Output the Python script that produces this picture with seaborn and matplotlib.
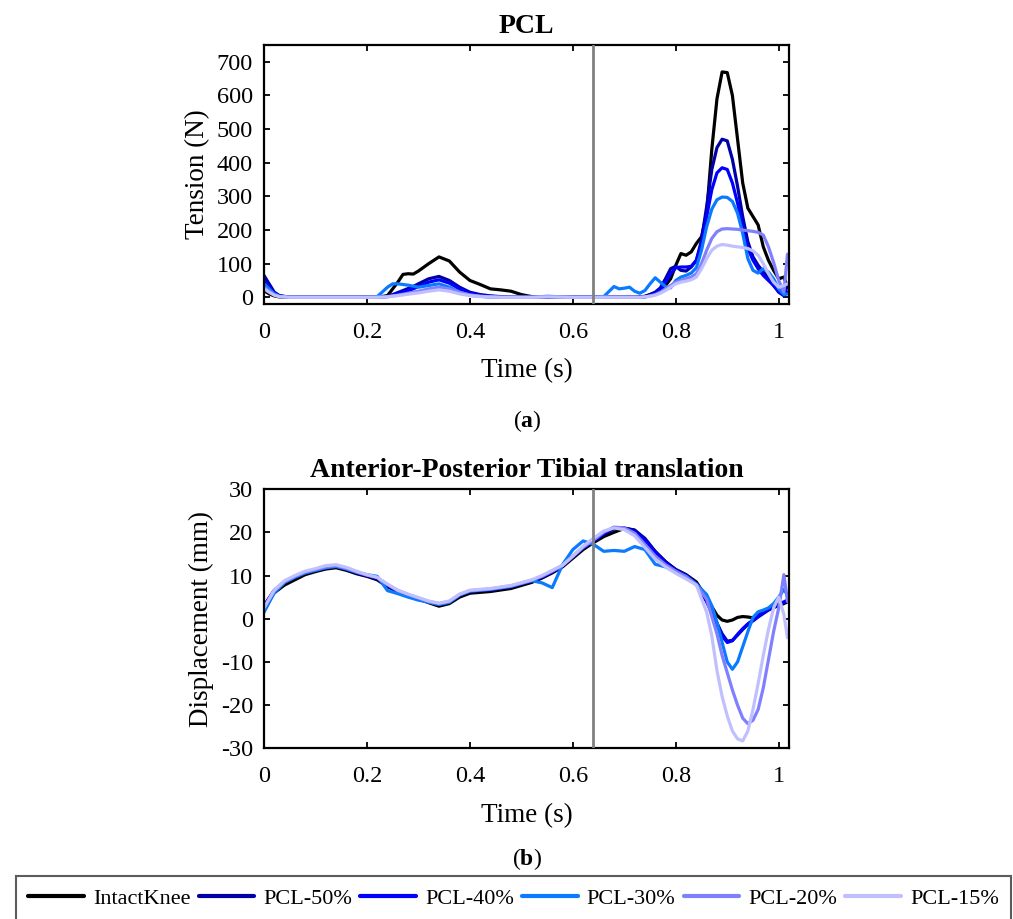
import numpy as np
import pandas as pd
import seaborn as sns
import matplotlib.pyplot as plt
from matplotlib.lines import Line2D

series = ['IntactKnee', 'PCL-50%', 'PCL-40%', 'PCL-30%', 'PCL-20%', 'PCL-15%']
colors = ['#000000', '#0000a8', '#0000ff', '#0a7aff', '#8080ff', '#c0c0ff']

# PCL tension (N)
t_top = [0, 0.01, 0.02, 0.03, 0.05, 0.10, 0.15, 0.20, 0.22, 0.24,
         0.25, 0.26, 0.27, 0.28, 0.29, 0.30,
         0.32, 0.34, 0.36, 0.38, 0.40, 0.42, 0.44, 0.46, 0.48, 0.50, 0.52,
         0.55, 0.60, 0.64, 0.66,
         0.68, 0.69, 0.70, 0.71, 0.72, 0.73, 0.74, 0.75, 0.76, 0.77,
         0.78, 0.79, 0.80, 0.81, 0.82, 0.83, 0.84, 0.85, 0.86, 0.87,
         0.88, 0.89, 0.90, 0.91, 0.92, 0.93, 0.94, 0.95, 0.96, 0.97,
         0.98, 0.99, 1.00, 1.01, 1.017]

tension_intact = [20, 10, 4, 1, 0, 0, 0, 0, 0, 5,
                  25, 45, 68, 70, 69, 78,
                  100, 120, 108, 75, 50, 38, 25, 22, 18, 8, 2,
                  0, 0, 0, 0,
                  0, 0, 0, 0, 0, 1, 3, 8, 14, 20,
                  35, 55, 95, 130, 125, 135, 160, 180, 250, 440,
                  590, 670, 668, 600, 470, 340, 265, 240, 215, 150,
                  110, 80, 55, 60, 30]
tension_50 = [65, 40, 15, 5, 0, 0, 0, 0, 0, 3,
              8, 14, 20, 26, 32, 40,
              55, 62, 50, 30, 15, 8, 4, 2, 1, 0, 0,
              0, 0, 0, 0,
              0, 0, 0, 0, 0, 0, 2, 8, 15, 28,
              55, 85, 92, 80, 78, 90, 110, 170, 270, 380,
              445, 470, 465, 410, 330, 240, 165, 120, 95, 75,
              60, 35, 15, 5, 35]
tension_40 = [50, 30, 12, 4, 0, 0, 0, 0, 0, 2,
              6, 11, 16, 20, 25, 32,
              45, 52, 42, 25, 12, 6, 3, 1, 0, 0, 0,
              0, 0, 0, 0,
              0, 0, 0, 0, 0, 0, 1, 5, 12, 22,
              45, 70, 88, 90, 90, 92, 110, 160, 240, 320,
              370, 385, 380, 340, 280, 210, 145, 110, 85, 65,
              50, 35, 18, 5, 15]
tension_30 = [40, 25, 10, 3, 0, 0, 0, 0, 2, 30,
              40, 40, 38, 36, 33, 30,
              35, 40, 30, 15, 6, 3, 1, 0, 0, 0, 0,
              3, 0, 0, 2,
              32, 25, 27, 30, 18, 12, 20, 40, 58, 45,
              32, 28, 50, 60, 65, 72, 88, 140, 210, 262,
              290, 298, 297, 285, 250, 190, 115, 80, 72, 85,
              75, 55, 25, 8, 10]
tension_20 = [30, 18, 8, 2, 0, 0, 0, 0, 0, 2,
              4, 6, 9, 12, 15, 18,
              25, 30, 25, 15, 7, 3, 1, 0, 0, 0, 0,
              2, 0, 0, 0,
              0, 0, 0, 0, 0, 0, 1, 4, 8, 15,
              25, 35, 45, 50, 55, 60, 70, 100, 140, 175,
              195, 203, 204, 203, 202, 200, 198, 196, 193, 185,
              150, 104, 50, 15, 128]
tension_15 = [25, 15, 6, 2, 0, 0, 0, 0, 0, 1,
              3, 5, 7, 9, 11, 13,
              18, 22, 18, 10, 5, 2, 1, 0, 0, 0, 0,
              1, 0, 0, 0,
              0, 0, 0, 0, 0, 0, 1, 3, 6, 12,
              20, 30, 40, 45, 48, 52, 60, 85, 115, 140,
              152, 157, 155, 152, 150, 148, 145, 138, 125, 100,
              70, 45, 30, 35, 40]

# Anterior-posterior tibial translation (mm)
t_bot = [0, 0.02, 0.04, 0.06, 0.08, 0.10, 0.12, 0.14, 0.16, 0.18, 0.20,
         0.22, 0.24, 0.26, 0.28, 0.30, 0.32, 0.34, 0.36, 0.38, 0.40,
         0.44, 0.48, 0.52,
         0.54, 0.56, 0.58, 0.60, 0.62, 0.64, 0.66, 0.68, 0.70, 0.72,
         0.74, 0.76, 0.78, 0.80, 0.82, 0.84, 0.86,
         0.87, 0.88, 0.89, 0.90, 0.91, 0.92, 0.93, 0.94, 0.95, 0.96,
         0.97, 0.98, 0.99, 1.00, 1.01, 1.017]

disp_intact = [2.8, 6.0, 7.8, 9.0, 10.2, 10.9, 11.5, 11.8, 11.2, 10.4, 9.8,
               9.0, 7.4, 6.3, 5.4, 4.6, 3.7, 2.9, 3.5, 5.0, 5.9,
               6.3, 7.0, 8.4,
               9.4, 10.6, 12.0, 14.0, 16.0, 17.6, 19.0, 20.0, 20.9, 20.5,
               18.3, 15.5, 13.2, 11.4, 10.2, 8.5, 4.8,
               2.8, 0.8, -0.3, -0.6, -0.3, 0.3, 0.5, 0.4, 0.2, 0.8,
               1.5, 2.1, 2.6, 3.0, 3.5, 3.9]
disp_50 = [3.0, 6.4, 8.5, 9.6, 10.6, 11.2, 11.8, 12.1, 11.5, 10.6, 10.0,
           9.4, 7.8, 6.5, 5.5, 4.7, 3.9, 3.3, 3.8, 5.4, 6.3,
           6.7, 7.4, 8.7,
           9.6, 10.8, 12.2, 14.3, 16.4, 17.9, 19.6, 20.8, 21.0, 20.5,
           18.6, 15.6, 13.2, 11.3, 10.1, 8.2, 4.2,
           1.7, -1.0, -3.5, -5.2, -5.0, -3.8, -2.5, -1.3, -0.5, 0.4,
           1.2, 2.0, 2.7, 3.2, 3.7, 4.1]
disp_40 = [3.0, 6.6, 8.6, 9.7, 10.7, 11.3, 11.9, 12.2, 11.6, 10.7, 10.0,
           9.3, 7.7, 6.4, 5.4, 4.6, 3.9, 3.4, 3.9, 5.5, 6.4,
           6.8, 7.5, 8.8,
           9.7, 10.9, 12.3, 14.4, 16.5, 18.0, 19.8, 21.1, 20.9, 20.1,
           18.1, 15.3, 13.0, 11.2, 10.0, 8.0, 3.9,
           1.3, -1.5, -4.0, -5.5, -5.1, -3.6, -2.3, -1.2, -0.3, 0.6,
           1.4, 2.1, 2.8, 3.4, 3.9, 4.3]
disp_30 = [1.5, 6.0, 8.4, 9.6, 10.6, 11.2, 11.8, 12.1, 11.5, 10.8, 10.2,
           9.8, 6.5, 5.8, 5.0, 4.3, 3.8, 3.3, 3.8, 5.5, 6.4,
           6.8, 7.5, 8.8,
           8.3, 7.2, 12.5, 16.0, 18.0, 17.2, 15.6, 15.8, 15.6, 16.7,
           16.0, 12.6, 12.0, 10.8, 9.8, 8.0, 5.6,
           3.0, -0.8, -5.5, -10.0, -11.7, -10.0, -6.5, -3.0, 0.3, 1.6,
           2.0, 2.5, 3.5, 5.0, 6.8, 5.5]
disp_20 = [2.5, 6.5, 8.6, 9.8, 10.8, 11.4, 12.0, 12.3, 11.7, 10.8, 10.1,
           9.5, 7.9, 6.5, 5.6, 4.8, 4.0, 3.5, 4.0, 5.6, 6.5,
           6.9, 7.6, 8.9,
           9.8, 11.0, 12.3, 14.4, 16.5, 18.2, 20.0, 21.2, 21.0, 19.8,
           17.2, 14.5, 12.5, 11.0, 9.7, 7.8, 4.5,
           0.5, -3.5, -8.5, -12.5, -16.5, -20.0, -23.0, -24.3, -23.5, -21.0,
           -16.0, -9.5, -3.0, 2.5, 10.2, 4.0]
disp_15 = [2.5, 6.6, 8.8, 10.0, 11.0, 11.6, 12.3, 12.5, 11.9, 11.0, 10.2,
           9.6, 8.0, 6.6, 5.7, 4.9, 4.1, 3.6, 4.1, 5.7, 6.6,
           7.0, 7.7, 9.0,
           10.0, 11.2, 12.4, 14.5, 16.8, 18.6, 20.3, 21.0, 20.6, 19.2,
           16.5, 13.8, 12.0, 10.5, 9.2, 7.8, 1.5,
           -4.0, -12.0, -18.0, -22.5, -26.0, -27.8, -28.3, -26.0, -21.0, -15.0,
           -8.5, -2.5, 2.5, 5.0, 1.0, -4.4]

event_time = 0.64

tension = [tension_intact, tension_50, tension_40, tension_30, tension_20, tension_15]
disp = [disp_intact, disp_50, disp_40, disp_30, disp_20, disp_15]


def long_form(t, values):
    frames = []
    for name, vals in zip(series, values):
        frames.append(pd.DataFrame({'time': t, 'value': vals, 'series': name}))
    return pd.concat(frames, ignore_index=True)


sns.set_style('ticks')
plt.rcParams['font.family'] = ['Liberation Serif', 'DejaVu Serif']
plt.rcParams['mathtext.fontset'] = 'custom'
plt.rcParams['mathtext.rm'] = 'Liberation Serif'
plt.rcParams['mathtext.bf'] = 'Liberation Serif:bold'
plt.rcParams['axes.unicode_minus'] = False
for key in ['text.color', 'axes.labelcolor', 'xtick.color', 'ytick.color',
            'xtick.labelcolor', 'ytick.labelcolor']:
    plt.rcParams[key] = 'black'

palette = dict(zip(series, colors))

fig = plt.figure(figsize=(10.13, 9.19), dpi=100)
ax_top = fig.add_axes([0.2606, 0.6692, 0.5183, 0.2818])
ax_bot = fig.add_axes([0.2606, 0.1857, 0.5183, 0.2821])

panels = [
    (ax_top, long_form(t_top, tension), 'PCL', 'Tension (N)', (-20, 750),
     [0, 100, 200, 300, 400, 500, 600, 700]),
    (ax_bot, long_form(t_bot, disp), 'Anterior-Posterior Tibial translation',
     'Displacement (mm)', (-30, 30), [-30, -20, -10, 0, 10, 20, 30]),
]

for ax, df, title, ylabel, ylim, yticks in panels:
    sns.lineplot(data=df, x='time', y='value', hue='series', palette=palette,
                 hue_order=series, linewidth=2.3, legend=False, ax=ax)
    ax.axvline(event_time, color='#808080', linewidth=2.0, zorder=5)
    ax.set_xlim(0, 1.02)
    ax.set_ylim(*ylim)
    ax.set_xticks([0, 0.2, 0.4, 0.6, 0.8, 1.0])
    ax.set_xticklabels(['0', '0.2', '0.4', '0.6', '0.8', '1'])
    ax.set_yticks(yticks)
    ax.tick_params(direction='in', top=True, right=True, length=4, width=1.3,
                   labelsize=17.5, color='black')
    ax.tick_params(axis='x', pad=13)
    ax.tick_params(axis='y', pad=8)
    for sp in ax.spines.values():
        sp.set_linewidth(1.6)
        sp.set_color('black')
    ax.set_title(title, fontsize=20, fontweight='bold', pad=9)
    ax.set_xlabel('Time (s)', fontsize=19.5, labelpad=11)
    ax.set_ylabel(ylabel, fontsize=19.5, labelpad=5)

fig.text(0.5203, 1 - 421 / 919, r'($\mathbf{a}$)', ha='center', va='center', fontsize=17)
fig.text(0.5203, 1 - 859 / 919, r'($\mathbf{b}$)', ha='center', va='center', fontsize=17)

handles = [Line2D([], [], color=c, linewidth=3) for c in colors]
leg = fig.legend(handles, series, loc='upper left',
                 bbox_to_anchor=(0.016, 0.0, 0.982, 1 - 876 / 919),
                 mode='expand', ncol=6, fontsize=16, frameon=True, fancybox=False,
                 handlelength=2.5, handletextpad=0.4, borderaxespad=0.0,
                 borderpad=0.55, columnspacing=1.0)
leg.get_frame().set_edgecolor('#333333')
leg.get_frame().set_linewidth(1.5)

fig.savefig('out.png', dpi=100)
